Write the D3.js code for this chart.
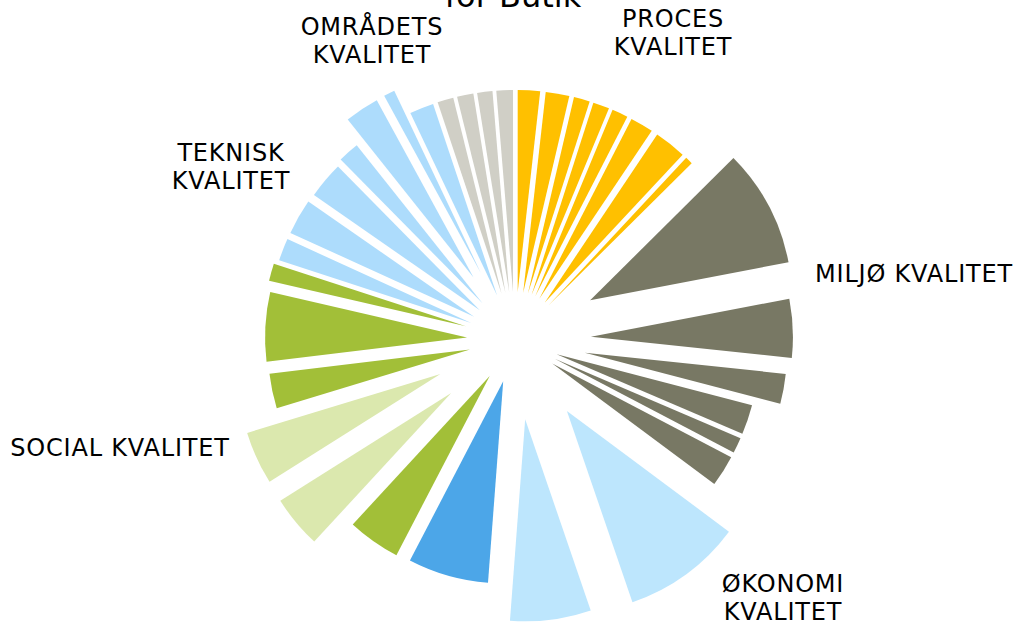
<!DOCTYPE html>
<html>
<head>
<meta charset="utf-8">
<script src="https://cdn.jsdelivr.net/npm/d3@7"></script>
<style>
  body { margin: 0; background: #fff; }
  .label { font-family: "DejaVu Sans", Verdana, sans-serif; font-size: 24px; letter-spacing: 0.8px; fill: #000; }
  .title { font-family: "DejaVu Sans", Verdana, sans-serif; font-size: 32px; fill: #000; }
</style>
</head>
<body>
<div id="chart"></div>
<script>
// slice weights (%) per category, clockwise from 12 o'clock
const categories = ['PROCES KVALITET', 'MILJØ KVALITET', 'ØKONOMI KVALITET', 'SOCIAL KVALITET', 'TEKNISK KVALITET', 'OMRÅDETS KVALITET'];
const procesValues = [1.78, 1.89, 1.28, 1.31, 1.28, 1.85, 2.56, 0.60];
const miljoValues = [9.43, 4.69, 2.40, 2.36, 1.25, 2.50];
const okonomiValues = [9.56, 6.46, 6.44];
const socialValues = [4.22, 4.19, 4.25, 2.78, 5.54, 1.40];
const tekniskValues = [1.79, 2.86, 2.94, 1.69, 2.75, 0.89, 1.93];
const omraadetsValues = [1.28, 1.31, 1.22, 1.32];
const title = 'for Butik';

(function() {
  const width = 1020,
    height = 628,
    radius = 202,
    center = { x: 515, y: 340 };

  // how far each slice is pulled out (px), same order as the values
  const explode = [
    48, 48, 48, 48, 48, 48, 48, 48,
    85, 76, 71, 44, 44, 44,
    88, 80, 43,
    44, 83, 82, 46, 48, 51,
    47, 47, 46, 49, 75, 75, 48,
    48, 48, 48, 48
  ];

  const groupColors = {
    'PROCES KVALITET': ['#FFC000'],
    'MILJØ KVALITET': ['#787864'],
    'ØKONOMI KVALITET': ['#BDE6FD', '#BDE6FD', '#4CA6E8'],
    'SOCIAL KVALITET': ['#A2BF38', '#DBE8AE', '#DBE8AE', '#A2BF38', '#A2BF38', '#A2BF38'],
    'TEKNISK KVALITET': ['#ADDCFC'],
    'OMRÅDETS KVALITET': ['#D0CFC6']
  };

  const valueLists = [procesValues, miljoValues, okonomiValues, socialValues, tekniskValues, omraadetsValues];

  // flatten into one row per slice
  const slices = [];
  valueLists.forEach((list, g) => {
    list.forEach((v, i) => {
      const cols = groupColors[categories[g]];
      slices.push({ group: categories[g], value: v, color: cols[i % cols.length] });
    });
  });
  slices.forEach((d, i) => d.explode = explode[i]);

  const svg = d3.select('#chart')
    .append('svg')
      .attr('width', width)
      .attr('height', height);

  const pie = d3.pie()
    .sort(null)
    .value(d => d.value)
    .startAngle(0)
    .endAngle(2 * Math.PI);

  const arc = d3.arc()
    .innerRadius(0)
    .outerRadius(radius);

  const g = svg.append('g')
    .attr('transform', `translate(${center.x}, ${center.y})`);

  g.selectAll('.slice')
    .data(pie(slices))
    .enter().append('path')
      .attr('class', 'slice')
      .attr('d', arc)
      .attr('fill', d => d.data.color)
      .attr('transform', d => {
        const mid = (d.startAngle + d.endAngle) / 2;
        const dx = d.data.explode * Math.sin(mid),
          dy = -d.data.explode * Math.cos(mid);
        return `translate(${dx}, ${dy})`;
      });

  svg.append('text')
    .attr('class', 'title')
    .attr('x', 513)
    .attr('y', 7)
    .attr('text-anchor', 'middle')
    .text(title);

  // category labels, placed like the text boxes in the original
  const labels = [
    { lines: ['PROCES', 'KVALITET'], x: 673, y: 27 },
    { lines: ['MILJØ KVALITET'], x: 914, y: 282 },
    { lines: ['ØKONOMI', 'KVALITET'], x: 783, y: 592 },
    { lines: ['SOCIAL KVALITET'], x: 120, y: 456 },
    { lines: ['TEKNISK', 'KVALITET'], x: 231, y: 161 },
    { lines: ['OMRÅDETS', 'KVALITET'], x: 372, y: 35 }
  ];

  labels.forEach(l => {
    const t = svg.append('text')
      .attr('class', 'label')
      .attr('text-anchor', 'middle')
      .attr('x', l.x)
      .attr('y', l.y);
    l.lines.forEach((line, i) => {
      t.append('tspan')
        .attr('x', l.x)
        .attr('dy', i === 0 ? 0 : 28)
        .text(line);
    });
  });
})();
</script>
</body>
</html>
